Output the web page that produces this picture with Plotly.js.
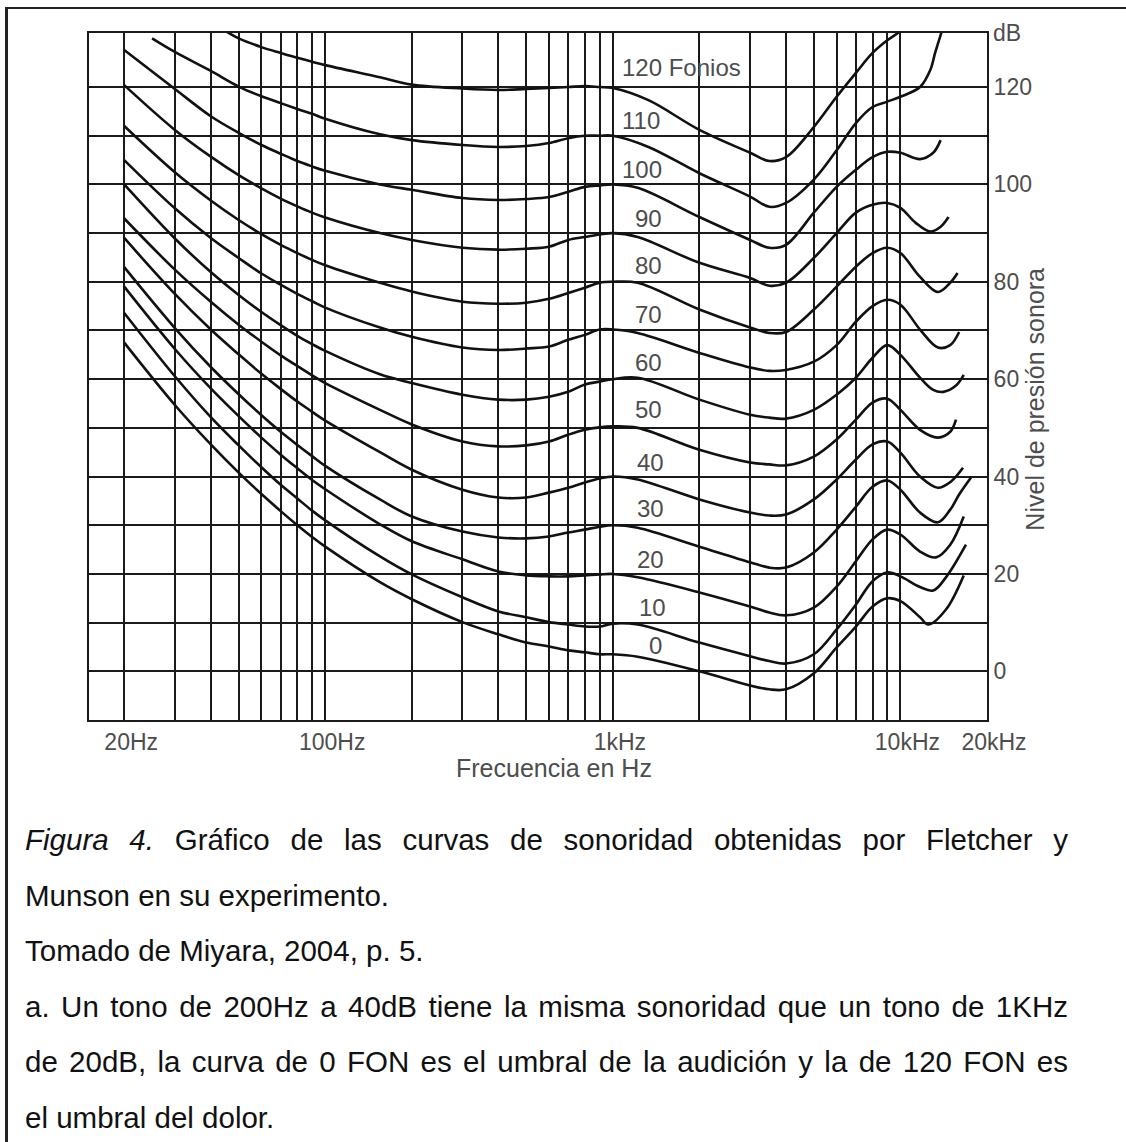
<!DOCTYPE html>
<html><head><meta charset="utf-8">
<script src="https://cdn.plot.ly/plotly-3.0.1.min.js"></script>
<style>
body{margin:0;background:#fff;}
#page{position:relative;width:1126px;height:1142px;overflow:hidden;background:#fff;}
#chart{position:absolute;left:0;top:0;width:1126px;height:790px;}
#frame{position:absolute;left:5px;top:7px;right:0;bottom:0;border-top:2px solid #222;border-left:3px solid #222;pointer-events:none;}
#caption{position:absolute;left:25px;top:812px;width:1043px;font-family:"Liberation Sans",Arial,sans-serif;font-size:29.5px;line-height:55.6px;color:#111;}
#caption div{white-space:normal;}
#caption .j{text-align:justify;text-align-last:justify;}
</style></head>
<body>
<div id="page">
<div id="chart"></div>
<div id="caption">
<div class="j"><i>Figura 4.</i> Gráfico de las curvas de sonoridad obtenidas por Fletcher y</div>
<div>Munson en su experimento.</div>
<div>Tomado de Miyara, 2004, p. 5.</div>
<div class="j">a. Un tono de 200Hz a 40dB tiene la misma sonoridad que un tono de 1KHz</div>
<div class="j">de 20dB, la curva de 0 FON es el umbral de la audición y la de 120 FON es</div>
<div>el umbral del dolor.</div>
</div>
<div id="frame"></div>
</div>
<script>
// ---- Data (frequency in Hz, level in dB) ----
const f120 = [45, 50, 60, 70, 80, 90, 100, 155, 200, 300, 400, 500, 600, 700, 800, 900, 1000, 1330, 2000, 3000, 3500, 4000, 5000, 6000, 7000, 8000, 9000, 10000, 10500];
const db120 = [131.5, 130, 128.2, 127, 126, 125.2, 124.5, 122, 120.5, 119.7, 119.4, 119.6, 119.8, 120, 120.2, 120, 119.8, 117.3, 111.2, 106.5, 104.8, 105.6, 111.8, 118, 122.9, 127, 129.6, 131.5, 133];

const f110 = [25, 30, 40, 50, 60, 70, 80, 90, 100, 155, 200, 300, 400, 500, 600, 700, 800, 900, 1000, 1330, 2000, 3000, 3500, 4000, 5000, 6000, 7000, 8000, 9000, 10000, 11700, 12700, 13200, 13800, 14200];
const db110 = [130, 127.2, 123.3, 120.1, 118.1, 116.7, 115.5, 114.5, 113.5, 110.3, 109.1, 108.1, 107.7, 107.9, 108.5, 109.5, 110, 110, 110, 107.7, 102.3, 97.5, 95.4, 96.2, 101, 107, 112.6, 115.9, 117, 118, 120, 123.5, 127, 130.7, 133];

const f100 = [20, 30, 40, 50, 60, 70, 80, 90, 100, 155, 200, 300, 400, 500, 600, 700, 800, 900, 1000, 1220, 2000, 3000, 3500, 4000, 5000, 6000, 7000, 8000, 9000, 10000, 11700, 13000, 13800];
const db100 = [127.6, 119.6, 114, 110.6, 108.1, 106.3, 104.8, 103.7, 102.8, 100, 98.9, 97.2, 96.8, 97, 97.4, 98.5, 99.5, 99.8, 100, 99.3, 93.3, 88.6, 87, 87.6, 94.2, 99.5, 103, 105.6, 106.7, 106.5, 105.2, 106.5, 109.1];

const f90 = [20, 30, 40, 50, 60, 70, 80, 90, 100, 155, 200, 300, 400, 500, 600, 700, 800, 900, 1000, 1220, 2000, 3000, 3500, 4000, 5000, 6000, 7000, 8000, 9000, 10000, 11300, 12700, 13800, 14700];
const db90 = [120.4, 111.2, 105.7, 101.9, 99.2, 97.1, 95.5, 94.2, 93.2, 90, 88.6, 87, 86.6, 86.8, 87.2, 88.6, 89.2, 89.7, 90, 89.2, 83.9, 80.8, 79.2, 79.8, 84.9, 90, 94.2, 95.8, 96.2, 95.2, 92.1, 90.3, 91.3, 93.3];

const f80 = [20, 30, 40, 50, 60, 70, 80, 90, 100, 155, 200, 300, 400, 500, 600, 700, 800, 900, 1000, 1220, 2000, 3000, 3500, 4000, 5000, 6000, 7000, 8000, 9000, 10000, 11700, 13500, 14900, 15800];
const db80 = [112, 102.5, 96.7, 92.7, 89.8, 87.6, 85.9, 84.5, 83.4, 79.8, 78, 75.9, 75.5, 75.7, 76.5, 77.7, 78.8, 79.8, 80, 79.8, 74.3, 70.6, 69.5, 69.7, 74.3, 79, 83.1, 85.9, 87, 85.9, 81, 77.9, 79.8, 81.8];

const f70 = [20, 30, 40, 50, 60, 70, 80, 90, 100, 155, 200, 300, 400, 500, 600, 700, 800, 900, 1000, 1220, 2000, 3000, 3500, 4000, 5000, 6000, 7000, 8000, 9000, 10000, 11700, 13500, 14900, 16000];
const db70 = [105, 95.1, 89, 84.9, 81.7, 79.4, 77.5, 76, 74.7, 70.6, 68.7, 66.5, 66, 66.3, 66.7, 68.1, 69.1, 70.2, 70.2, 69.5, 65.4, 62.4, 61.7, 61.9, 63.6, 67, 71.8, 75, 76.3, 75.3, 70.2, 66.5, 67, 69.7];

const f60 = [20, 30, 40, 50, 60, 70, 80, 90, 100, 155, 200, 300, 400, 500, 600, 700, 800, 900, 1000, 1220, 2000, 3000, 3500, 4000, 5000, 6000, 7000, 8000, 9000, 10000, 11700, 13000, 14100, 15600, 16600];
const db60 = [100, 88.9, 82, 77.3, 73.8, 71.1, 68.9, 67.2, 65.8, 61, 59.2, 56.8, 55.8, 55.8, 56.4, 57.4, 58.9, 59.5, 60, 60.3, 55.8, 52.7, 52.1, 51.9, 53.7, 56.8, 60.3, 64.4, 67, 65, 60.3, 57.8, 57.4, 58.7, 60.9];

const f50 = [20, 30, 40, 50, 60, 70, 80, 90, 100, 155, 200, 300, 400, 500, 600, 700, 800, 900, 1000, 1220, 2000, 3000, 3500, 4000, 5000, 6000, 7000, 8000, 9000, 10000, 11700, 13500, 14900, 15600];
const db50 = [93, 82.5, 75.9, 71.2, 67.7, 64.9, 62.7, 60.8, 59.2, 53.7, 50.7, 47.2, 46.2, 46.4, 47.2, 48.6, 49.6, 50.1, 50.3, 50, 45.5, 42.9, 42.5, 42.3, 44.1, 47.6, 51.7, 55.2, 56, 53.7, 49.6, 48, 49.2, 51.7];

const f40 = [20, 30, 40, 50, 60, 70, 80, 90, 100, 155, 200, 300, 400, 500, 600, 700, 800, 900, 1000, 1220, 2000, 3000, 3500, 4000, 5000, 6000, 7000, 8000, 9000, 10000, 11700, 13500, 15000, 16500];
const db40 = [89, 77.5, 70.2, 65.1, 61.1, 58, 55.4, 53.3, 51.5, 45, 41.4, 37.3, 35.7, 35.7, 36.7, 37.7, 38.8, 39.6, 40, 39.4, 35.3, 32.6, 32, 32.2, 35.3, 39.4, 43.5, 46.6, 47.2, 44.9, 40, 37.7, 39, 41.8];

const f30 = [20, 30, 40, 50, 60, 70, 80, 90, 100, 155, 200, 300, 400, 500, 600, 700, 800, 900, 1000, 1220, 2000, 3000, 3500, 4000, 5000, 6000, 7000, 8000, 9000, 10000, 11700, 13500, 14900, 16000, 17600];
const db30 = [83, 70.5, 62.5, 56.9, 52.6, 49.2, 46.5, 44.2, 42.2, 35.3, 31.8, 28.7, 27.5, 27.3, 27.7, 28.5, 29.1, 29.7, 30, 29.5, 25.6, 22.4, 21.3, 21.3, 24.4, 29.1, 33.8, 37.9, 39.2, 37.3, 32.6, 30.6, 33.2, 36.3, 39.8];

const f20 = [20, 30, 40, 50, 60, 70, 80, 90, 100, 155, 200, 300, 400, 500, 600, 700, 800, 900, 1000, 1220, 2000, 3000, 3500, 4000, 5000, 6000, 7000, 8000, 9000, 10000, 11700, 13300, 14900, 16600];
const db20 = [79, 66.2, 58.1, 52.4, 48, 44.5, 41.7, 39.3, 37.4, 30.2, 26.7, 23, 20.5, 19.7, 19.5, 19.5, 19.7, 19.9, 20, 19.3, 16.2, 13.3, 12.1, 11.5, 13.1, 17.4, 22.6, 27.1, 29.1, 28.1, 24.6, 23.4, 26, 31.8];

const f10 = [20, 30, 40, 50, 60, 70, 80, 90, 100, 155, 200, 300, 400, 500, 600, 700, 800, 900, 1000, 1220, 2000, 3000, 3500, 4000, 5000, 6000, 7000, 8000, 9000, 10000, 11700, 13000, 14400, 16900];
const db10 = [73.6, 60.6, 52.2, 46.4, 41.9, 38.3, 35.5, 33, 31, 23.6, 19.9, 15.2, 12.3, 11.1, 10.1, 9.6, 9.2, 9.2, 9.8, 9.6, 5.9, 3.1, 2.1, 1.6, 3.5, 8.6, 13.7, 18.5, 20.3, 19.5, 17.3, 16.6, 19.3, 26];

const f0 = [20, 30, 40, 50, 60, 70, 80, 90, 100, 155, 200, 300, 400, 500, 600, 700, 800, 900, 1000, 1220, 2000, 3000, 3500, 4000, 5000, 6000, 7000, 8000, 9000, 10000, 11700, 12500, 14400, 16600];
const db0 = [67.5, 54.7, 46.6, 40.8, 36.4, 32.9, 30, 27.6, 25.6, 18.3, 14.8, 10.1, 7.6, 5.9, 5.1, 4.3, 3.9, 3.5, 3.5, 3, 0, -2.9, -3.7, -3.7, -0.4, 4.9, 9.2, 13.3, 15, 14.4, 11.1, 9.6, 12.7, 19.7];

// Curve labels
const labelText = ["120 Fonios", "110", "100", "90", "80", "70", "60", "50", "40", "30", "20", "10", "0"];
const labelFreq = [1060, 1060, 1060, 1175, 1175, 1175, 1175, 1175, 1190, 1190, 1190, 1210, 1310];
const labelDb = [124.1, 113.2, 103, 93.1, 83.4, 73.2, 63.5, 53.7, 42.8, 33.5, 22.9, 13.2, 5.4];

// Axis grid and tick labels
const gridFreq = [20, 30, 40, 50, 60, 70, 80, 90, 100, 200, 300, 400, 500, 600, 700, 800, 900, 1000, 2000, 3000, 4000, 5000, 6000, 7000, 8000, 9000, 10000, 20000];
const freqLabels = {20: "20Hz", 100: "100Hz", 1000: "1kHz", 10000: "10kHz", 20000: "20kHz"};
const gridDb = [-10, 0, 10, 20, 30, 40, 50, 60, 70, 80, 90, 100, 110, 120];
const dbLabels = {0: "0", 20: "20", 40: "40", 60: "60", 80: "80", 100: "100", 120: "120"};

const xTitle = "Frecuencia en Hz";
const yTitle = "Nivel de presión sonora";
const yUnit = "dB";

// ---- Build ----
const curves = [[f120, db120], [f110, db110], [f100, db100], [f90, db90], [f80, db80], [f70, db70], [f60, db60], [f50, db50], [f40, db40], [f30, db30], [f20, db20], [f10, db10], [f0, db0]];
const traces = curves.map(c => ({
  x: c[0], y: c[1], mode: 'lines', type: 'scatter',
  line: {color: '#111', width: 2.6, shape: 'spline', smoothing: 1},
  hoverinfo: 'skip', showlegend: false
}));

const FONT = 'Liberation Sans, Arial, Helvetica, sans-serif';
const TXT = '#4d4d4d';
const GRID = '#1a1a1a';

const annotations = labelText.map((t, i) => ({
  x: Math.log10(labelFreq[i]), y: labelDb[i], xref: 'x', yref: 'y',
  text: t, showarrow: false, xanchor: 'left', yanchor: 'middle',
  font: {family: FONT, size: 24, color: TXT}
}));
annotations.push({xref: 'paper', yref: 'paper', x: 1, y: 1, xanchor: 'left', yanchor: 'middle', xshift: 4,
  text: yUnit, showarrow: false, font: {family: FONT, size: 23, color: TXT}});
annotations.push({xref: 'paper', yref: 'y', x: 1, y: 55.8, xanchor: 'center', yanchor: 'middle', xshift: 48,
  text: yTitle, textangle: -90, showarrow: false, font: {family: FONT, size: 25, color: TXT}});
annotations.push({xref: 'paper', yref: 'paper', x: 0.518, y: 0, xanchor: 'center', yanchor: 'middle', yshift: -48,
  text: xTitle, showarrow: false, font: {family: FONT, size: 25, color: TXT}});

const layout = {
  width: 1126, height: 790,
  margin: {l: 89, r: 139, t: 33, b: 70},
  paper_bgcolor: 'rgba(0,0,0,0)', plot_bgcolor: '#fff',
  showlegend: false,
  xaxis: {
    type: 'log', range: [1.1786, Math.log10(20000)],
    tickmode: 'array', tickvals: gridFreq, ticktext: gridFreq.map(f => freqLabels[f] || ''),
    showgrid: true, gridcolor: GRID, gridwidth: 2,
    showline: true, linecolor: GRID, linewidth: 2, mirror: true,
    ticks: '', zeroline: false, fixedrange: true,
    ticklabelshift: 7,
    tickfont: {family: FONT, size: 23, color: TXT}
  },
  yaxis: {
    range: [-10, 131.1], side: 'right',
    tickmode: 'array', tickvals: gridDb, ticktext: gridDb.map(v => dbLabels[v] !== undefined ? dbLabels[v] : ''),
    showgrid: true, gridcolor: GRID, gridwidth: 2,
    showline: true, linecolor: GRID, linewidth: 2, mirror: true,
    ticks: '', zeroline: false, fixedrange: true,
    tickfont: {family: FONT, size: 23, color: TXT}
  },
  annotations: annotations
};

Plotly.newPlot('chart', traces, layout, {staticPlot: true, displayModeBar: false});
</script>
</body></html>
